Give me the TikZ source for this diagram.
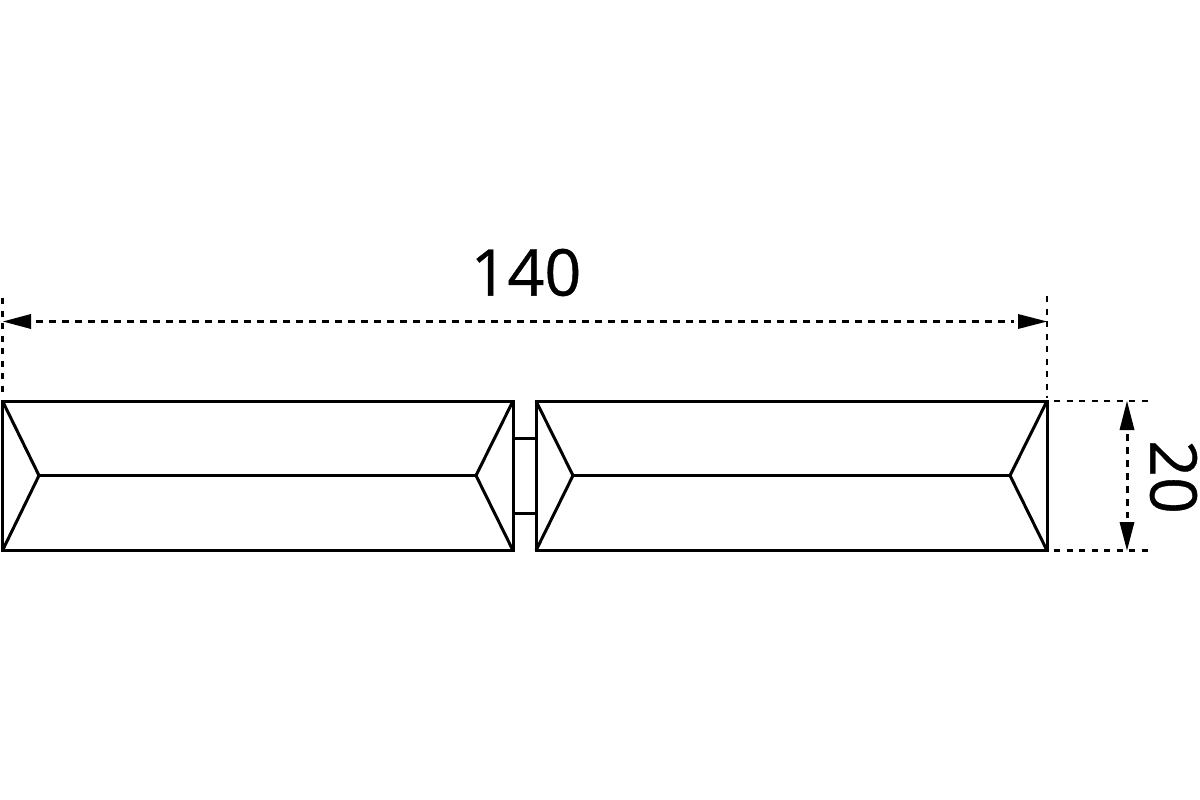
\documentclass[tikz,border=0pt]{standalone}
\usepackage{fontspec}
\setmainfont[FakeBold=0.6]{Open Sans}
\tikzset{
  part/.style={line width=3pt, line join=miter, black},
  thinpart/.style={line width=3pt, black},
  dimline/.style={line width=3pt, black, dash pattern=on 7pt off 6pt},
  extline/.style={line width=2.8pt, black, dash pattern=on 6pt off 6.5pt},
  tip/.style={fill=black, draw=none},
  dimtext/.style={font=\fontsize{64.5pt}{64.5pt}\selectfont, inner sep=0pt, text=black}
}
\begin{document}
\begin{tikzpicture}[x=1pt,y=-1pt]
\useasboundingbox (0,0) rectangle (1200,800);
% connecting pieces
\draw[part] (513,438) -- (536,438);
\draw[part] (513,513) -- (536,513);
% left panel
\draw[part] (2.5,401) rectangle (513,550.5);
\draw[thinpart] (2.5,401) -- (39,475.5) -- (2.5,550.5);
\draw[thinpart] (513,401) -- (476,475.5) -- (513,550.5);
\draw[thinpart] (39,475.5) -- (476,475.5);
% right panel
\draw[part] (536,401) rectangle (1047,550.5);
\draw[thinpart] (536,401) -- (573,475.5) -- (536,550.5);
\draw[thinpart] (1047,401) -- (1010,475.5) -- (1047,550.5);
\draw[thinpart] (573,475.5) -- (1010,475.5);
% extension lines
\draw[extline] (2.5,298) -- (2.5,397);
\draw[extline] (1047,296) -- (1047,398);
\draw[extline] (1054,401) -- (1150,401);
\draw[extline] (1054,550.5) -- (1150,550.5);
% width dimension
\draw[dimline] (36,321.5) -- (1014,321.5);
\fill[tip] (3,321.5) -- (31,314) -- (31,329) -- cycle;
\fill[tip] (1047,321.5) -- (1018,314) -- (1018,329) -- cycle;
% height dimension
\draw[dimline] (1127,434) -- (1127,518);
\fill[tip] (1127,401) -- (1119.5,430) -- (1134.5,430) -- cycle;
\fill[tip] (1127,550.5) -- (1119.5,522) -- (1134.5,522) -- cycle;
% labels
\node[dimtext] (w) at (526,272.5) {140};
\node[dimtext, rotate=-90] (h) at (1173.5,477) {20};
\end{tikzpicture}
\end{document}
